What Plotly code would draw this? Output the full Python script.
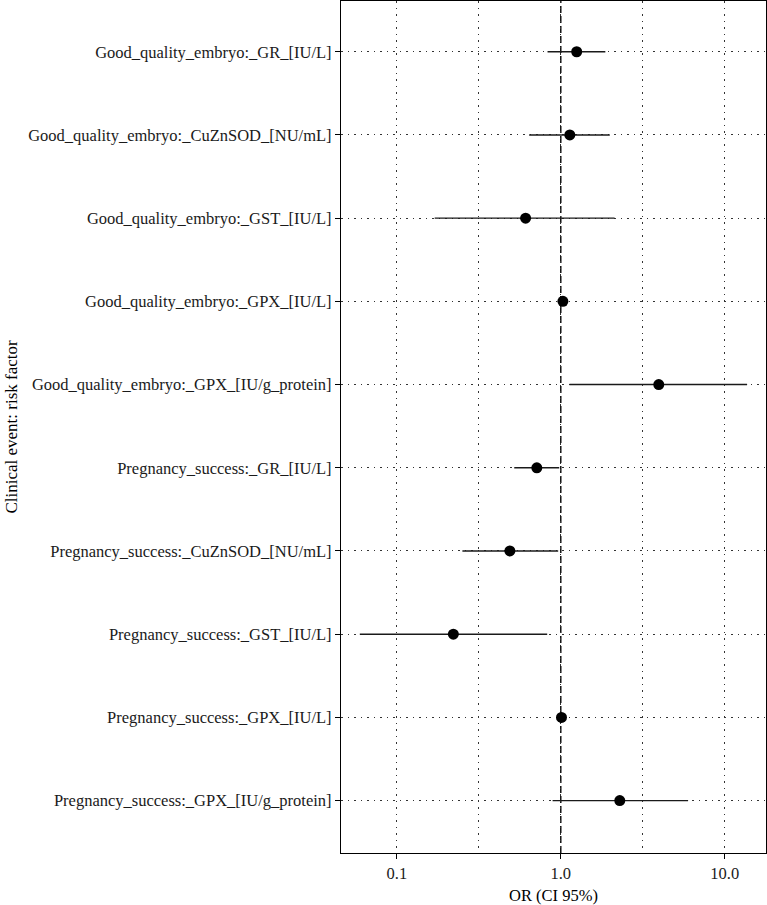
import plotly.graph_objects as go

labels = [
    "Good_quality_embryo:_GR_[IU/L]",
    "Good_quality_embryo:_CuZnSOD_[NU/mL]",
    "Good_quality_embryo:_GST_[IU/L]",
    "Good_quality_embryo:_GPX_[IU/L]",
    "Good_quality_embryo:_GPX_[IU/g_protein]",
    "Pregnancy_success:_GR_[IU/L]",
    "Pregnancy_success:_CuZnSOD_[NU/mL]",
    "Pregnancy_success:_GST_[IU/L]",
    "Pregnancy_success:_GPX_[IU/L]",
    "Pregnancy_success:_GPX_[IU/g_protein]",
]
odds_ratio = [1.25, 1.135, 0.61, 1.03, 3.96, 0.714, 0.489, 0.221, 1.01, 2.29]
ci_low = [0.83, 0.641, 0.170, 1.0, 1.13, 0.520, 0.251, 0.0594, 0.99, 0.891]
ci_high = [1.87, 1.99, 2.13, 1.06, 13.7, 0.978, 0.964, 0.826, 1.03, 5.98]

x_ticks = [0.1, 1.0, 10.0]
x_tick_text = ["0.1", "1.0", "10.0"]
x_minor = [0.1 ** 0.5, 10 ** 0.5]

FONT = "Liberation Serif"
GRID_DASH = "1.5px,5px"

fig = go.Figure()
fig.add_trace(go.Scatter(
    x=odds_ratio, y=labels, mode="markers",
    marker=dict(color="black", size=11, symbol="circle"),
    error_x=dict(type="data", symmetric=False,
                 array=[h - o for h, o in zip(ci_high, odds_ratio)],
                 arrayminus=[o - l for o, l in zip(odds_ratio, ci_low)],
                 width=0, thickness=1.4, color="#1a1a1a"),
    showlegend=False,
))

fig.add_shape(type="line", xref="x", yref="paper", x0=1, x1=1, y0=0, y1=1,
              line=dict(color="black", width=1.4, dash="7px,3px"), layer="below")

fig.update_layout(
    width=767, height=905,
    margin=dict(l=341, r=1, t=1, b=52, autoexpand=False),
    paper_bgcolor="white", plot_bgcolor="white",
    font=dict(family=FONT, size=16, color="black"),
)
fig.update_xaxes(
    type="log", range=[-1.341, 1.252],
    tickvals=x_ticks, ticktext=x_tick_text,
    ticks="outside", ticklen=5, tickcolor="black", tickwidth=1,
    showline=True, linecolor="black", linewidth=1.2, mirror=True,
    showgrid=True, gridcolor="#333333", gridwidth=1, griddash=GRID_DASH,
    minor=dict(tickvals=x_minor, showgrid=True, gridcolor="#333333",
               gridwidth=1, griddash=GRID_DASH, ticks=""),
    zeroline=False,
    tickfont=dict(family=FONT, size=16.5, color="#1a1a1a"),
    title=dict(text="OR (CI 95%)", font=dict(family=FONT, size=16.5), standoff=8),
)
fig.update_yaxes(
    type="category", categoryorder="array", categoryarray=labels,
    range=[9.63, -0.61],
    ticks="outside", ticklen=5, tickcolor="black", tickwidth=1,
    showline=True, linecolor="black", linewidth=1.2, mirror=True,
    showgrid=True, gridcolor="#333333", gridwidth=1, griddash=GRID_DASH,
    tickfont=dict(family=FONT, size=16.5, color="#1a1a1a"),
    title=dict(text="Clinical event: risk factor", font=dict(family=FONT, size=17), standoff=6),
)

fig.write_html("out.html", config={"displayModeBar": False},
               post_script="document.body.style.margin='0';")
